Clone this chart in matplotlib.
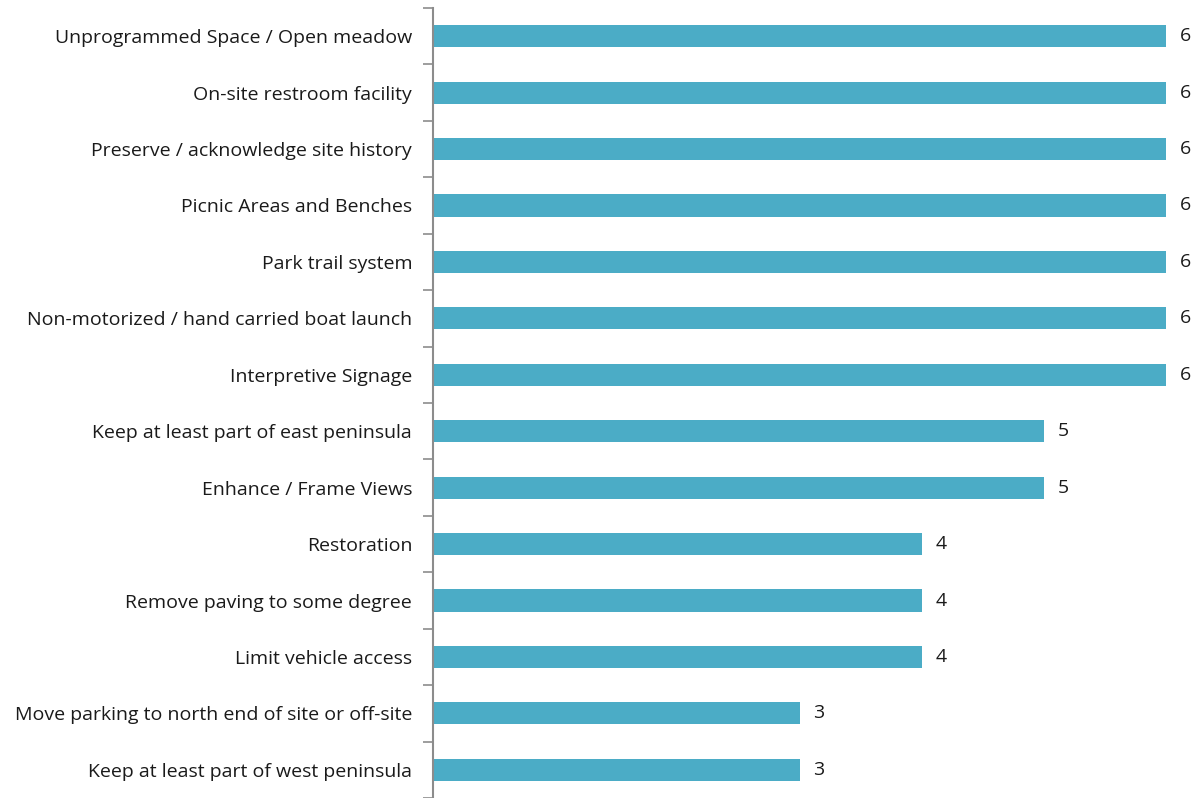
import matplotlib
matplotlib.use("Agg")
import matplotlib.pyplot as plt
import numpy as np

categories = [
    "Unprogrammed Space / Open meadow",
    "On-site restroom facility",
    "Preserve / acknowledge site history",
    "Picnic Areas and Benches",
    "Park trail system",
    "Non-motorized / hand carried boat launch",
    "Interpretive Signage",
    "Keep at least part of east peninsula",
    "Enhance / Frame Views",
    "Restoration",
    "Remove paving to some degree",
    "Limit vehicle access",
    "Move parking to north end of site or off-site",
    "Keep at least part of west peninsula",
]
values = [6, 6, 6, 6, 6, 6, 6, 5, 5, 4, 4, 4, 3, 3]

plt.rcParams['font.family'] = ['Open Sans', 'DejaVu Sans']

fig = plt.figure(figsize=(11.99, 7.98), dpi=100)
ax = fig.add_axes([433/1199, 0, 1 - 433/1199, 790/798])

n = len(categories)
y = np.arange(n)
ax.barh(y, values, height=0.39, color="#4BACC6", zorder=2)
ax.set_ylim(n - 0.5, -0.5)
ax.set_xlim(0, (1199 - 433) / ((1166 - 433) / 6))

ax.set_yticks(y)
ax.set_yticklabels(categories, fontsize=14, color="#1a1a1a")
ax.tick_params(axis='y', which='major', length=0, pad=15)
ax.set_yticks(np.arange(-0.5, n, 1.0), minor=True)
ax.tick_params(axis='y', which='minor', length=7, width=1.2, color="#8c8c8c", direction='out')
ax.set_xticks([])

for s in ['top', 'right', 'bottom']:
    ax.spines[s].set_visible(False)
ax.spines['left'].set_color("#8c8c8c")
ax.spines['left'].set_linewidth(1.5)

for yi, v in zip(y, values):
    ax.annotate(str(v), (v, yi), xytext=(14, 0), textcoords='offset pixels',
                va='center', ha='left', fontsize=14, color="#1a1a1a")

fig.savefig("out.png", dpi=100)
